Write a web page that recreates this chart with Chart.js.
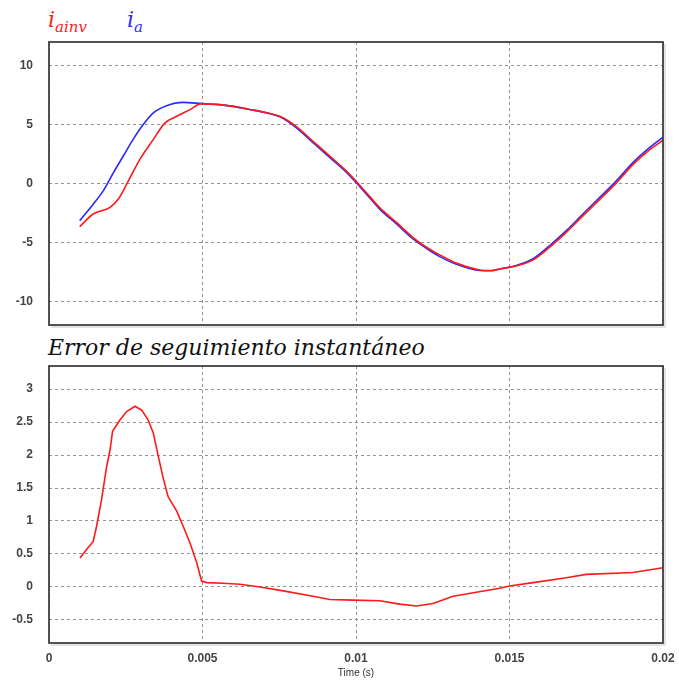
<!DOCTYPE html>
<html>
<head>
<meta charset="utf-8">
<script src="https://cdn.jsdelivr.net/npm/chart.js@4"></script>
<style>
    body { margin: 0; background: #fff; width: 679px; height: 681px; position: relative; overflow: hidden; }
    .box { position: absolute; left: 0; width: 679px; }
    .lbl { position: absolute; font-family: "DejaVu Serif", serif; font-style: italic; white-space: nowrap; }
    .lbl sub { font-size: 15px; vertical-align: -5px; }
</style>
</head>
<body>
<div class="lbl" style="left:48px; top:7px; font-size:22px; color:#ff2020;">i<sub>ainv</sub></div>
<div class="lbl" style="left:127px; top:7px; font-size:22px; color:#3030ff;">i<sub>a</sub></div>
<div class="lbl" style="left:48px; top:335px; font-size:22px; color:#111;">Error de seguimiento instantáneo</div>
<div class="box" style="top:0; height:335px;"><canvas id="currentChart"></canvas></div>
<div class="box" style="top:335px; height:346px;"><canvas id="errorChart"></canvas></div>
<script>
// Time ticks (s)
const xTicks = [0, 0.005, 0.01, 0.015, 0.02];
const yTicksTop = [-10, -5, 0, 5, 10];
const yTicksBottom = [-0.5, 0, 0.5, 1, 1.5, 2, 2.5, 3];

// i_a (blue)
const timeA = [0.001, 0.00144, 0.00177, 0.00209, 0.00242, 0.00274, 0.00307, 0.0034, 0.00383, 0.00437,
    0.005, 0.00554, 0.006, 0.0065, 0.00709, 0.00752, 0.00806, 0.0086, 0.00915, 0.00969,
    0.01034, 0.01077, 0.01132, 0.01186, 0.0124, 0.01273, 0.01327, 0.01403, 0.0144, 0.01468,
    0.01522, 0.01577, 0.01631, 0.01685, 0.01739, 0.01794, 0.01848, 0.01902, 0.01956, 0.02];
const currentA = [-3.15, -1.75, -0.6, 0.88, 2.33, 3.74, 5.0, 5.99, 6.6, 6.88,
    6.77, 6.69, 6.54, 6.3, 5.99, 5.65, 4.72, 3.46, 2.19, 0.93,
    -0.9, -2.17, -3.43, -4.7, -5.68, -6.2, -6.85, -7.38, -7.4, -7.25,
    -6.95, -6.38, -5.26, -4.0, -2.59, -1.18, 0.22, 1.77, 3.04, 3.93];

// i_ainv (red)
const timeInv = [0.001, 0.00144, 0.00199, 0.00226, 0.00253, 0.00296, 0.0034, 0.00378, 0.00416, 0.00465,
    0.00492, 0.00554, 0.006, 0.0065, 0.00709, 0.00752, 0.00806, 0.0086, 0.00915, 0.00969,
    0.01034, 0.01077, 0.01132, 0.01186, 0.0124, 0.01273, 0.01327, 0.01403, 0.0144, 0.01468,
    0.01522, 0.01577, 0.01631, 0.01685, 0.01739, 0.01794, 0.01848, 0.01902, 0.01956, 0.02];
const currentInv = [-3.66, -2.59, -2.02, -1.32, -0.06, 2.05, 3.74, 5.14, 5.7, 6.35,
    6.75, 6.69, 6.54, 6.3, 6.0, 5.7, 4.82, 3.58, 2.32, 1.05,
    -0.78, -2.05, -3.3, -4.58, -5.58, -6.05, -6.75, -7.33, -7.38, -7.25,
    -7.0, -6.48, -5.4, -4.15, -2.75, -1.35, 0.05, 1.6, 2.85, 3.68];

// tracking error
const timeErr = [0.00101, 0.00123, 0.00144, 0.00155, 0.00171, 0.00188, 0.00199, 0.00207, 0.00231, 0.00253,
    0.0028, 0.00302, 0.00323, 0.0034, 0.00356, 0.00372, 0.00388, 0.00416, 0.00437, 0.00459,
    0.00481, 0.00497, 0.00513, 0.00567, 0.00622, 0.00687, 0.00763, 0.0086, 0.00915, 0.00991,
    0.01077, 0.01143, 0.01197, 0.01251, 0.01316, 0.01392, 0.01468, 0.015, 0.01577, 0.01685,
    0.0175, 0.01902, 0.02];
const trackError = [0.44, 0.57, 0.69, 0.92, 1.32, 1.83, 2.08, 2.36, 2.53, 2.66,
    2.74, 2.68, 2.53, 2.33, 1.98, 1.65, 1.37, 1.15, 0.92, 0.67,
    0.37, 0.09, 0.066, 0.056, 0.04, 0.0, -0.06, -0.14, -0.19, -0.2,
    -0.21, -0.26, -0.29, -0.25, -0.14, -0.08, -0.02, 0.015, 0.066, 0.14,
    0.19, 0.22, 0.29];

const toPoints = (xs, ys) => xs.map((x, i) => ({ x: x, y: ys[i] }));

const tickFont = { family: 'Liberation Sans', size: 12, weight: 'bold' };
const gridStyle = { color: 'rgba(120,120,120,0.8)', lineWidth: 1, drawTicks: false };
const dash = [3, 3];

// draw the box round the plot area
const framePlugin = {
    id: 'frame',
    afterDraw(chart) {
        const a = chart.chartArea;
        const ctx = chart.ctx;
        ctx.save();
        ctx.strokeStyle = '#c8c8c8';
        ctx.lineWidth = 1;
        ctx.beginPath();
        ctx.moveTo(a.right + 2, a.top + 2);
        ctx.lineTo(a.right + 2, a.bottom + 2);
        ctx.lineTo(a.left + 2, a.bottom + 2);
        ctx.stroke();
        ctx.strokeStyle = '#404040';
        ctx.lineWidth = 1.8;
        ctx.strokeRect(a.left, a.top, a.right - a.left, a.bottom - a.top);
        ctx.restore();
    }
};

function xScale(showLabels) {
    return {
        type: 'linear',
        min: 0,
        max: 0.02,
        afterBuildTicks: s => { s.ticks = xTicks.map(v => ({ value: v })); },
        afterFit: s => {
            s.height = showLabels ? 38 : 0;
            s.paddingLeft = 0;
            s.paddingRight = 0;
        },
        border: { display: false, dash: dash },
        grid: gridStyle,
        ticks: {
            display: showLabels,
            padding: 8,
            maxRotation: 0,
            font: tickFont,
            color: '#444',
            callback: v => String(+v.toFixed(3))
        },
        title: {
            display: showLabels,
            text: 'Time (s)',
            font: { family: 'Liberation Sans', size: 10 },
            color: '#333',
            padding: { top: 0, bottom: 2 }
        }
    };
}

function yScale(min, max, ticks) {
    return {
        min: min,
        max: max,
        afterBuildTicks: s => { s.ticks = ticks.map(v => ({ value: v })); },
        afterFit: s => {
            s.width = 49;
            s.paddingTop = 0;
            s.paddingBottom = 0;
        },
        border: { display: false, dash: dash },
        grid: gridStyle,
        ticks: { padding: 16, font: tickFont, color: '#444', callback: v => String(v) }
    };
}

Chart.defaults.animation = false;

const currentCtx = document.getElementById('currentChart').getContext('2d');
const currentChart = new Chart(currentCtx, {
    type: 'line',
    data: {
        datasets: [{
            label: 'i_ainv',
            data: toPoints(timeInv, currentInv),
            borderColor: '#ff1a1a',
            borderWidth: 1.6,
            pointRadius: 0,
            cubicInterpolationMode: 'monotone'
        }, {
            label: 'i_a',
            data: toPoints(timeA, currentA),
            borderColor: '#2a2aff',
            borderWidth: 1.6,
            pointRadius: 0,
            cubicInterpolationMode: 'monotone'
        }]
    },
    options: {
        responsive: true,
        maintainAspectRatio: false,
        layout: { padding: { top: 42, right: 16, bottom: 10, left: 0 } },
        plugins: { legend: { display: false }, tooltip: { enabled: false } },
        scales: {
            x: xScale(false),
            y: yScale(-12, 12, yTicksTop)
        }
    },
    plugins: [framePlugin]
});

const errorCtx = document.getElementById('errorChart').getContext('2d');
const errorChart = new Chart(errorCtx, {
    type: 'line',
    data: {
        datasets: [{
            label: 'Error',
            data: toPoints(timeErr, trackError),
            borderColor: '#ff1a1a',
            borderWidth: 1.6,
            pointRadius: 0,
            tension: 0
        }]
    },
    options: {
        responsive: true,
        maintainAspectRatio: false,
        layout: { padding: { top: 31, right: 16, bottom: 0, left: 0 } },
        plugins: { legend: { display: false }, tooltip: { enabled: false } },
        scales: {
            x: xScale(true),
            y: yScale(-0.85, 3.35, yTicksBottom)
        }
    },
    plugins: [framePlugin]
});
</script>
</body>
</html>
